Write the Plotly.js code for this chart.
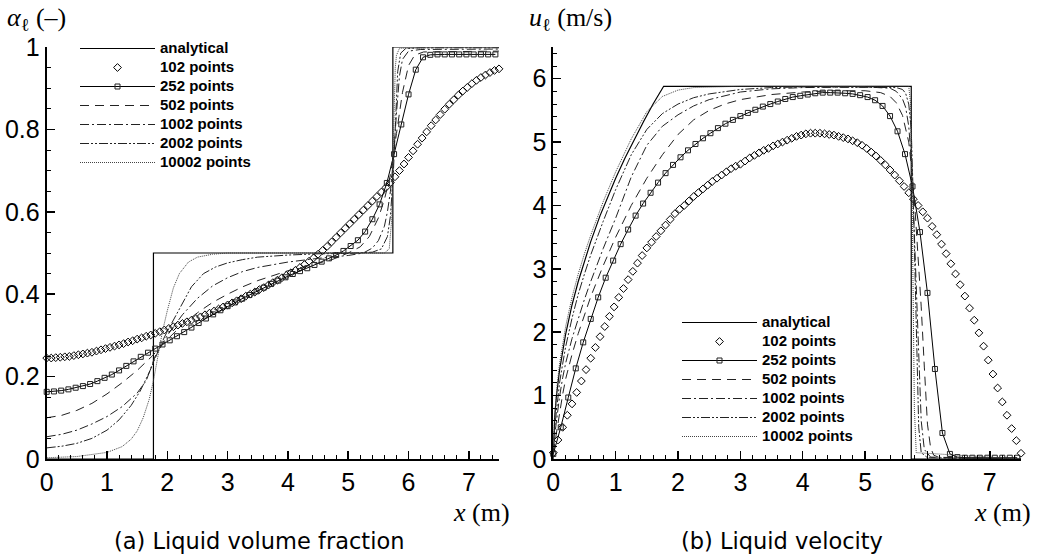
<!DOCTYPE html>
<html>
<head>
<meta charset="utf-8">
<script src="https://cdn.plot.ly/plotly-3.0.1.min.js"></script>
<style>html,body{margin:0;padding:0;background:#fff;}#chart{width:1042px;height:559px;}</style>
</head>
<body>
<div id="chart"></div>
<script>
// ---------- series names ----------
const seriesNames = ["analytical", "102 points", "252 points", "502 points", "1002 points", "2002 points", "10002 points"];

// ---------- (a) liquid volume fraction ----------
const alphaAnaX = [0, 1.77, 1.77, 5.74, 5.74, 7.5];
const alphaAnaY = [0, 0, 0.5, 0.5, 1, 1];

// 102 points: one value per cell, spacing 0.075 m starting at x = 0
const alpha102 = [0.245,0.245,0.246,0.247,0.248,0.249,0.251,0.253,0.255,0.257,
  0.259,0.262,0.265,0.268,0.271,0.274,0.277,0.280,0.284,0.287,
  0.291,0.294,0.298,0.301,0.305,0.309,0.313,0.317,0.321,0.325,
  0.329,0.333,0.337,0.341,0.345,0.350,0.354,0.359,0.364,0.369,
  0.374,0.379,0.384,0.389,0.395,0.400,0.405,0.411,0.416,0.422,
  0.428,0.434,0.440,0.446,0.452,0.458,0.465,0.472,0.480,0.488,
  0.497,0.506,0.516,0.527,0.538,0.549,0.560,0.571,0.582,0.593,
  0.604,0.615,0.626,0.637,0.648,0.659,0.671,0.685,0.700,0.716,
  0.732,0.748,0.764,0.779,0.794,0.809,0.823,0.836,0.849,0.861,
  0.872,0.883,0.893,0.902,0.911,0.919,0.926,0.932,0.938,0.943,0.947];

// 252 points: markers every 0.12 m starting at x = 0
const alpha252 = [0.163,0.164,0.166,0.169,0.173,0.177,0.182,0.189,0.197,0.205,
  0.215,0.226,0.237,0.248,0.258,0.268,0.278,0.288,0.298,0.308,
  0.319,0.330,0.341,0.351,0.361,0.371,0.380,0.389,0.398,0.407,
  0.416,0.425,0.433,0.441,0.449,0.456,0.463,0.471,0.479,0.487,
  0.495,0.505,0.517,0.531,0.552,0.582,0.618,0.670,0.740,0.812,
  0.885,0.945,0.975,0.981,0.982,0.982,0.982,0.982,0.982,0.982,0.982,0.982,0.982];

const alpha502X = [0,0.25,0.5,0.75,1.0,1.25,1.5,1.75,2.0,2.25,2.5,2.75,3.0,3.25,3.5,4.0,4.5,4.75,5.0,5.2,5.35,5.5,5.6,5.7,5.8,5.9,6.0,6.1,6.25,7.5];
const alpha502Y = [0.100,0.106,0.118,0.135,0.158,0.185,0.215,0.250,0.290,0.326,0.355,0.380,0.400,0.418,0.433,0.457,0.475,0.485,0.500,0.515,0.540,0.585,0.630,0.690,0.790,0.890,0.955,0.980,0.988,0.990];

const alpha1002X = [0,0.25,0.5,0.75,1.0,1.25,1.5,1.65,1.8,2.0,2.25,2.5,2.75,3.0,3.25,3.5,4.0,4.5,5.0,5.25,5.4,5.5,5.6,5.65,5.7,5.75,5.8,5.85,5.9,6.0,6.2,7.5];
const alpha1002Y = [0.054,0.060,0.070,0.085,0.103,0.127,0.160,0.190,0.250,0.300,0.350,0.390,0.420,0.440,0.455,0.465,0.478,0.487,0.494,0.500,0.512,0.530,0.565,0.600,0.650,0.730,0.840,0.930,0.970,0.990,0.994,0.995];

const alpha2002X = [0,0.25,0.5,0.75,1.0,1.2,1.4,1.55,1.7,1.8,1.9,2.0,2.1,2.25,2.4,2.6,2.8,3.0,3.25,3.5,4.0,4.5,5.0,5.4,5.55,5.65,5.7,5.75,5.78,5.82,5.87,5.95,6.2,7.5];
const alpha2002Y = [0.027,0.031,0.038,0.050,0.070,0.095,0.130,0.165,0.210,0.245,0.280,0.310,0.337,0.380,0.418,0.450,0.466,0.476,0.484,0.490,0.495,0.498,0.499,0.502,0.510,0.540,0.590,0.700,0.820,0.940,0.985,0.996,0.998,0.998];

const alpha10002X = [0,0.5,1.0,1.25,1.4,1.5,1.6,1.7,1.77,1.85,1.92,2.0,2.1,2.2,2.35,2.5,2.75,3.0,5.6,5.68,5.72,5.74,5.76,5.78,5.8,5.85,7.5];
const alpha10002Y = [0.003,0.006,0.016,0.030,0.048,0.068,0.100,0.145,0.190,0.255,0.310,0.360,0.415,0.450,0.478,0.490,0.497,0.500,0.500,0.510,0.580,0.720,0.870,0.950,0.980,0.997,1.000];

// ---------- (b) liquid velocity ----------
const uAnaX = [0,0.02,0.05,0.1,0.2,0.3,0.4,0.5,0.6,0.75,0.9,1.0,1.15,1.3,1.45,1.6,1.77,5.74,5.74,7.5];
const uAnaY = [0,0.63,0.99,1.40,1.98,2.43,2.80,3.13,3.43,3.84,4.20,4.43,4.75,5.05,5.33,5.60,5.88,5.88,0,0];

const u102 = [0.10,0.30,0.50,0.69,0.87,1.05,1.23,1.41,1.59,1.76,
  1.93,2.09,2.25,2.40,2.55,2.69,2.83,2.96,3.09,3.21,
  3.33,3.42,3.51,3.60,3.69,3.78,3.87,3.94,4.00,4.07,
  4.14,4.20,4.26,4.32,4.38,4.43,4.48,4.53,4.58,4.62,
  4.65,4.70,4.75,4.79,4.83,4.87,4.90,4.94,4.97,5.00,
  5.03,5.06,5.09,5.11,5.13,5.14,5.14,5.14,5.13,5.12,
  5.11,5.09,5.07,5.05,5.02,4.99,4.95,4.90,4.84,4.78,
  4.71,4.64,4.56,4.48,4.39,4.30,4.20,4.10,4.00,3.90,
  3.80,3.67,3.54,3.39,3.24,3.08,2.92,2.75,2.57,2.38,
  2.19,1.99,1.78,1.56,1.34,1.12,0.90,0.69,0.48,0.29,0.09];

const u252 = [0.08,0.50,0.97,1.43,1.84,2.21,2.55,2.86,3.13,3.39,
  3.62,3.84,4.03,4.20,4.36,4.51,4.64,4.76,4.87,4.97,
  5.06,5.14,5.22,5.29,5.35,5.41,5.46,5.51,5.56,5.60,
  5.64,5.68,5.71,5.73,5.75,5.77,5.78,5.78,5.78,5.77,
  5.76,5.74,5.71,5.66,5.57,5.41,5.17,4.81,4.30,3.58,
  2.62,1.42,0.41,0.08,0.03,0.02,0.02,0.02,0.02,0.02,0.02,0.02,0.02];

const u502X = [0,0.03,0.06,0.1,0.15,0.2,0.3,0.4,0.5,0.6,0.8,1.0,1.25,1.5,1.75,2.0,2.25,2.5,2.75,3.0,3.5,4.0,4.5,5.0,5.25,5.4,5.5,5.6,5.7,5.75,5.8,5.85,5.9,5.95,6.0,6.05,6.1,6.2,7.5];
const u502Y = [0.10,0.30,0.50,0.75,1.02,1.27,1.65,1.98,2.28,2.56,3.05,3.50,4.00,4.43,4.80,5.12,5.35,5.50,5.60,5.67,5.75,5.79,5.81,5.81,5.78,5.72,5.62,5.42,5.00,4.55,3.95,3.25,2.40,1.45,0.55,0.18,0.06,0.02,0.00];

const u1002X = [0,0.03,0.06,0.1,0.15,0.2,0.3,0.4,0.5,0.6,0.8,1.0,1.25,1.5,1.75,2.0,2.25,2.5,3.0,3.5,4.0,5.0,5.4,5.5,5.6,5.65,5.7,5.75,5.8,5.85,5.9,5.95,6.05,7.5];
const u1002Y = [0.20,0.45,0.70,0.98,1.28,1.52,1.90,2.22,2.52,2.80,3.32,3.80,4.45,4.95,5.25,5.43,5.57,5.67,5.79,5.84,5.86,5.87,5.85,5.80,5.68,5.55,5.25,4.60,3.30,1.70,0.60,0.15,0.03,0.00];

const u2002X = [0,0.03,0.06,0.1,0.15,0.2,0.3,0.4,0.5,0.6,0.8,1.0,1.25,1.5,1.75,2.0,2.25,2.5,3.0,3.5,4.0,5.0,5.5,5.6,5.65,5.7,5.74,5.77,5.8,5.83,5.86,5.9,6.0,7.5];
const u2002Y = [0.30,0.60,0.90,1.20,1.50,1.78,2.22,2.60,2.92,3.22,3.75,4.25,4.80,5.20,5.45,5.60,5.70,5.76,5.83,5.86,5.87,5.87,5.86,5.83,5.77,5.60,5.20,4.20,2.80,1.40,0.50,0.10,0.02,0.00];

const u10002X = [0,0.03,0.06,0.1,0.15,0.2,0.3,0.4,0.5,0.6,0.8,1.0,1.25,1.5,1.75,2.0,2.25,2.5,3.0,5.7,5.73,5.75,5.77,5.79,5.82,7.5];
const u10002Y = [0.40,0.85,1.15,1.50,1.82,2.10,2.55,2.92,3.24,3.53,4.06,4.53,5.05,5.48,5.72,5.82,5.86,5.87,5.88,5.88,5.60,4.50,2.50,0.80,0.10,0.00];

// ---------- styles ----------
const lineStyles = {
  ana:   {color: "#000", width: 1.2, dash: "solid"},
  p252:  {color: "#000", width: 1, dash: "solid"},
  p502:  {color: "#222", width: 1, dash: "9px,6px"},
  p1002: {color: "#222", width: 1, dash: "9px,3px,2px,3px"},
  p2002: {color: "#222", width: 1, dash: "9px,2px,2px,2px,2px,2px"},
  p10002:{color: "#444", width: 1, dash: "1px,1px"}
};

// legend label text is drawn larger than the legend's nominal font so the rows stay tight
function legendLabel(s) { return '<span style="font-size:15px">' + s + '</span>'; }

function makeTraces(xa, ya, leg, d) {
  return [
    {x: d.anaX, y: d.anaY, xaxis: xa, yaxis: ya, legend: leg, name: legendLabel(seriesNames[0]), mode: "lines", line: lineStyles.ana},
    {x0: 0, dx: 0.075, y: d.p102, xaxis: xa, yaxis: ya, legend: leg, name: legendLabel(seriesNames[1]), mode: "markers", cliponaxis: false,
      marker: {symbol: "diamond-open", size: 6, color: "#000", line: {width: 1, color: "#000"}}},
    {x0: 0, dx: 0.12, y: d.p252, xaxis: xa, yaxis: ya, legend: leg, name: legendLabel(seriesNames[2]), mode: "lines+markers", cliponaxis: false,
      line: lineStyles.p252, marker: {symbol: "square-open", size: 5, color: "#222", line: {width: 1, color: "#222"}}},
    {x: d.x502, y: d.y502, xaxis: xa, yaxis: ya, legend: leg, name: legendLabel(seriesNames[3]), mode: "lines", line: lineStyles.p502},
    {x: d.x1002, y: d.y1002, xaxis: xa, yaxis: ya, legend: leg, name: legendLabel(seriesNames[4]), mode: "lines", line: lineStyles.p1002},
    {x: d.x2002, y: d.y2002, xaxis: xa, yaxis: ya, legend: leg, name: legendLabel(seriesNames[5]), mode: "lines", line: lineStyles.p2002},
    {x: d.x10002, y: d.y10002, xaxis: xa, yaxis: ya, legend: leg, name: legendLabel(seriesNames[6]), mode: "lines", line: lineStyles.p10002}
  ];
}

const traces = [].concat(
  makeTraces("x", "y", "legend", {anaX: alphaAnaX, anaY: alphaAnaY, p102: alpha102, p252: alpha252,
    x502: alpha502X, y502: alpha502Y, x1002: alpha1002X, y1002: alpha1002Y,
    x2002: alpha2002X, y2002: alpha2002Y, x10002: alpha10002X, y10002: alpha10002Y}),
  makeTraces("x2", "y2", "legend2", {anaX: uAnaX, anaY: uAnaY, p102: u102, p252: u252,
    x502: u502X, y502: u502Y, x1002: u1002X, y1002: u1002Y,
    x2002: u2002X, y2002: u2002Y, x10002: u10002X, y10002: u10002Y})
);

const W = 1042, H = 559;
const tickFont = {family: "Liberation Sans, Arial, sans-serif", size: 25, color: "#000"};
function axisBase(extra) {
  return Object.assign({
    showline: true, linecolor: "#000", linewidth: 2, mirror: false,
    ticks: "inside", ticklen: 8, tickwidth: 1.5, tickcolor: "#000",
    showgrid: false, zeroline: false, tickfont: tickFont, fixedrange: true
  }, extra);
}
const legendFont = {family: "Liberation Sans, Arial, sans-serif", size: 10.7, color: "#000", weight: "bold"};
const serif = "Liberation Serif, Times New Roman, serif";
const capFont = {family: "DejaVu Sans, sans-serif", size: 22.5, color: "#000"};

const layout = {
  width: W, height: H,
  margin: {l: 0, r: 0, t: 0, b: 0},
  paper_bgcolor: "#fff", plot_bgcolor: "#fff",
  showlegend: true,
  xaxis: axisBase({domain: [46.7 / W, 499 / W], range: [0, 7.5], dtick: 1, tick0: 0, anchor: "y",
    minor: {dtick: 0.2, ticks: "inside", ticklen: 4, tickwidth: 1, tickcolor: "#000"}}),
  yaxis: axisBase({domain: [(H - 459) / H, (H - 47) / H], range: [0, 1], dtick: 0.2, tick0: 0, anchor: "x",
    minor: {dtick: 0.05, ticks: "inside", ticklen: 4, tickwidth: 1, tickcolor: "#000"}}),
  xaxis2: axisBase({domain: [553.3 / W, 1021 / W], range: [0, 7.5], dtick: 1, tick0: 0, anchor: "y2",
    minor: {dtick: 0.2, ticks: "inside", ticklen: 4, tickwidth: 1, tickcolor: "#000"}}),
  yaxis2: axisBase({domain: [(H - 459) / H, (H - 47) / H], range: [0, 6.5], dtick: 1, tick0: 0, anchor: "x2",
    minor: {dtick: 0.2, ticks: "inside", ticklen: 4, tickwidth: 1, tickcolor: "#000"}}),
  legend: {x: 75 / W, y: (H - 34) / H, xanchor: "left", yanchor: "top", bgcolor: "rgba(0,0,0,0)",
    borderwidth: 0, font: legendFont, itemwidth: 75, tracegroupgap: 0, itemclick: false, itemdoubleclick: false},
  legend2: {x: 677 / W, y: (H - 308) / H, xanchor: "left", yanchor: "top", bgcolor: "rgba(0,0,0,0)",
    borderwidth: 0, font: legendFont, itemwidth: 75, tracegroupgap: 0, itemclick: false, itemdoubleclick: false},
  annotations: [
    {xref: "paper", yref: "paper", x: 5 / W, y: (H - 19) / H, xanchor: "left", yanchor: "middle", showarrow: false,
      text: "<i>α</i><sub>ℓ</sub> (–)", font: {family: serif, size: 26, color: "#000"}},
    {xref: "paper", yref: "paper", x: 527 / W, y: (H - 19) / H, xanchor: "left", yanchor: "middle", showarrow: false,
      text: "<i>u</i><sub>ℓ</sub> (m/s)", font: {family: serif, size: 26, color: "#000"}},
    {xref: "paper", yref: "paper", x: 511 / W, y: (H - 512) / H, xanchor: "right", yanchor: "middle", showarrow: false,
      borderpad: 0, text: "<i>x</i> (m)", font: {family: serif, size: 26, color: "#000"}},
    {xref: "paper", yref: "paper", x: 1032 / W, y: (H - 512) / H, xanchor: "right", yanchor: "middle", showarrow: false,
      borderpad: 0, text: "<i>x</i> (m)", font: {family: serif, size: 26, color: "#000"}},
    {xref: "paper", yref: "paper", x: 259 / W, y: (H - 541) / H, xanchor: "center", yanchor: "middle", showarrow: false,
      text: "(a) Liquid volume fraction", font: capFont},
    {xref: "paper", yref: "paper", x: 782 / W, y: (H - 541) / H, xanchor: "center", yanchor: "middle", showarrow: false,
      text: "(b) Liquid velocity", font: capFont}
  ]
};

Plotly.newPlot("chart", traces, layout, {displayModeBar: false, staticPlot: true});
</script>
</body>
</html>
